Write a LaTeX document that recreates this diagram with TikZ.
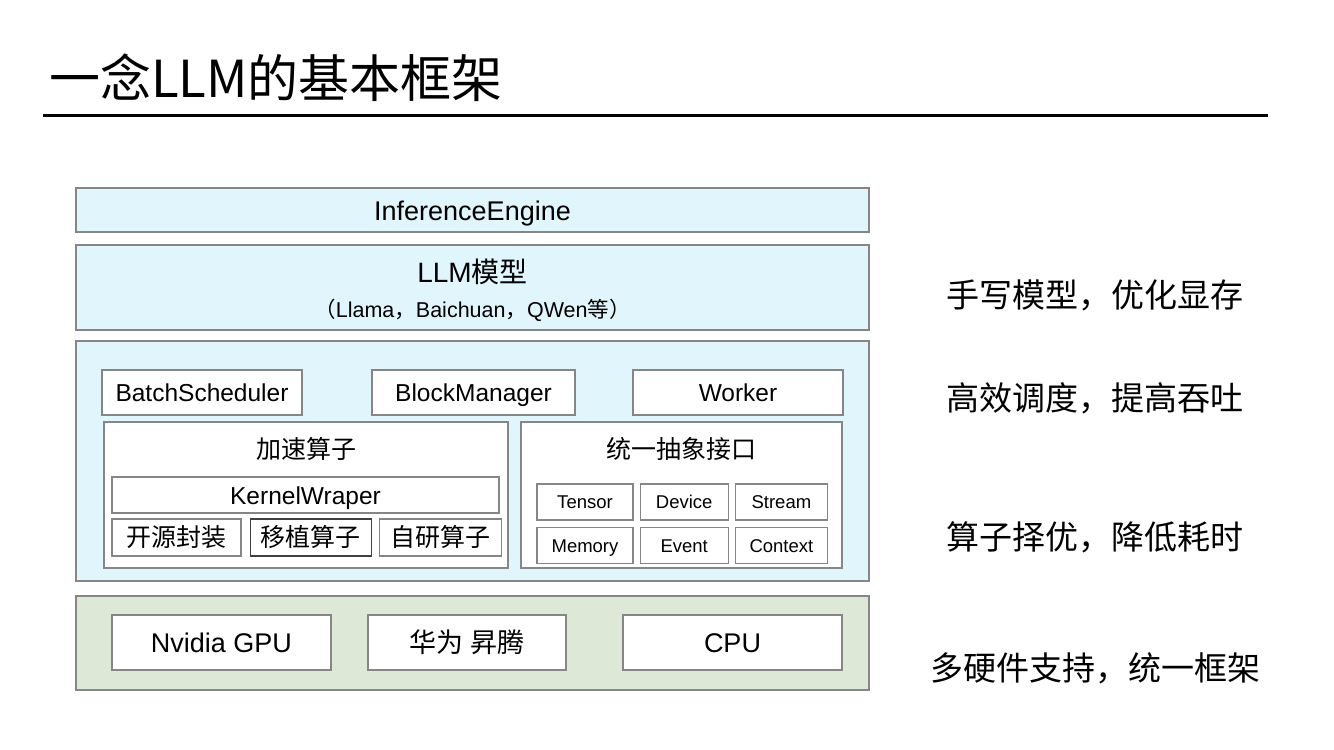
\documentclass[tikz,border=0pt]{standalone}
\usepackage{fontspec}
\setmainfont{Liberation Sans}
\newfontfamily\cjk{Noto Sans CJK SC}
\usetikzlibrary{positioning}

\definecolor{layerblue}{HTML}{E1F5FC}
\definecolor{layergreen}{HTML}{DEE8D6}
\definecolor{boxline}{HTML}{868686}

\tikzset{
  layer/.style={draw=boxline, line width=1.2pt, fill=layerblue, minimum width=793pt, inner sep=0pt},
  cell/.style={draw=boxline, line width=1.2pt, fill=white, inner sep=0pt},
  big/.style={font=\fontsize{24.5}{28}\selectfont, text height=18.1pt, text depth=0pt},
  small/.style={font=\fontsize{18.5}{22}\selectfont, text height=13.7pt, text depth=0pt},
  han/.style={font=\cjk\fontsize{25}{28}\selectfont, text height=18.5pt, text depth=0pt},
  hw/.style={font=\fontsize{27}{30}\selectfont, text height=20pt, text depth=0pt},
  note/.style={font=\cjk\fontsize{33}{36}\selectfont, text height=24.4pt, text depth=0pt, inner sep=0pt}
}

\begin{document}
\begin{tikzpicture}[x=1pt,y=-1pt]
  \useasboundingbox (0,0) rectangle (1334,750);

  \node[anchor=west, inner sep=0pt, font=\cjk\fontsize{51}{60}\selectfont] (title) at (49,78) {一念LLM的基本框架};
  \draw[line width=3pt] (43,115) -- (1268,115);

  % layers
  \node[layer, minimum height=44pt, font=\fontsize{27}{30}\selectfont, text height=20pt, text depth=0pt] (engine) at (472.5,210) {InferenceEngine};
  \node[layer, minimum height=85pt] (model) at (472.5,287.5) {};
  \node[font=\fontsize{28}{32}\selectfont, text height=20.7pt, text depth=0pt] (modelname) at (472.5,272) {LLM{\cjk 模型}};
  \node[font=\fontsize{21.5}{24}\selectfont, text height=15.9pt, text depth=0pt] (modellist) at (472.5,310)
    {{\cjk （}Llama{\cjk ，}Baichuan{\cjk ，}QWen{\cjk 等）}};
  \node[layer, minimum height=240pt] (runtime) at (472.5,461) {};
  \node[layer, fill=layergreen, minimum height=94pt] (device) at (472.5,643) {};

  % scheduler row
  \node[cell, big, minimum width=200pt, minimum height=45pt] (batch) at (202,392.5) {BatchScheduler};
  \node[cell, big, minimum width=203pt, minimum height=45pt] (block) at (473.5,392.5) {BlockManager};
  \node[cell, big, minimum width=210pt, minimum height=45pt] (worker) at (738,392.5) {Worker};

  % operators
  \node[cell, minimum width=404pt, minimum height=146pt] (ops) at (306,495) {};
  \node[han] (opstitle) at (306,449) {加速算子};
  \node[cell, big, minimum width=387pt, minimum height=36pt] (kernel) at (305.5,495) {KernelWraper};
  \node[cell, han, minimum width=129pt, minimum height=37pt] (opensrc) at (176.5,537.5) {开源封装};
  \node[cell, han, draw=black!75, minimum width=121pt, minimum height=37pt, right=8pt of opensrc] (ported) {移植算子};
  \node[cell, han, minimum width=122pt, minimum height=37pt, right=7pt of ported] (selfdev) {自研算子};

  % abstract interface
  \node[cell, minimum width=321pt, minimum height=146pt] (api) at (681.5,495) {};
  \node[han] (apititle) at (681.5,449) {统一抽象接口};
  \node[cell, small, minimum width=96pt, minimum height=36pt] (tensor) at (585,502) {Tensor};
  \node[cell, small, minimum width=88pt, minimum height=36pt, right=6pt of tensor] (dev) {Device};
  \node[cell, small, minimum width=92pt, minimum height=36pt, right=6pt of dev] (stream) {Stream};
  \node[cell, small, minimum width=96pt, minimum height=36pt, below=6pt of tensor] (memory) {Memory};
  \node[cell, small, minimum width=88pt, minimum height=36pt, below=6pt of dev] (event) {Event};
  \node[cell, small, minimum width=92pt, minimum height=36pt, below=6pt of stream] (context) {Context};

  % hardware
  \node[cell, hw, minimum width=219pt, minimum height=55pt] (nvidia) at (221.5,642.5) {Nvidia GPU};
  \node[cell, hw, minimum width=198pt, minimum height=55pt] (ascend) at (467,642.5) {{\cjk 华为} {\cjk 昇腾}};
  \node[cell, hw, minimum width=219pt, minimum height=55pt] (cpu) at (732.5,642.5) {CPU};

  % notes
  \foreach \y/\name/\txt in {295/memo/手写模型，优化显存, 398/sched/高效调度，提高吞吐,
                             537/kern/算子择优，降低耗时, 668/hard/多硬件支持，统一框架}
    \node[note] (\name) at (1095,\y) {\txt};
\end{tikzpicture}
\end{document}
